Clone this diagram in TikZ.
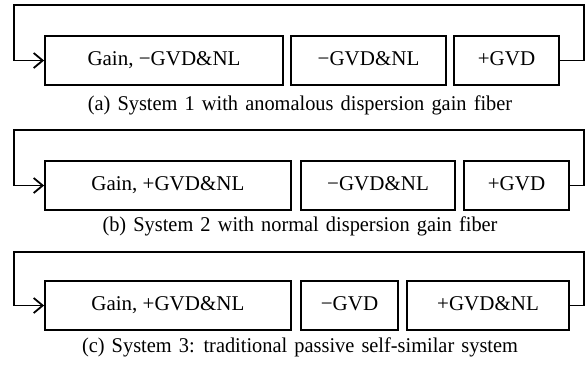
\documentclass[tikz,border=0pt]{standalone}
\usepackage{fontspec}
\setmainfont{Liberation Serif}
\newfontfamily\capfamily[FakeStretch=0.97, WordSpace=1.4]{Liberation Serif}
\usetikzlibrary{arrows.meta}
\tikzset{
  blk/.style={draw, line width=1.8pt, rectangle, inner sep=0pt,
    minimum height=49pt, font=\fontsize{21}{24}\selectfont,
    text height=0.662em+3pt, text depth=0pt},
  loopline/.style={line width=1.8pt,
    -{Straight Barb[length=9pt,width=15pt,line width=1.8pt]}},
  subcap/.style={anchor=base, inner sep=0pt,
    font=\capfamily\fontsize{21}{24}\selectfont}
}
\begin{document}
\begin{tikzpicture}[x=1pt, y=-1pt]
\useasboundingbox (0,0) rectangle (585,365);

% (a) System 1
\node[blk, minimum width=238pt] (a1) at (164,60.5) {Gain, −GVD\&NL};
\node[blk, minimum width=155pt] (a2) at (368.5,60.5) {−GVD\&NL};
\node[blk, minimum width=105pt] (a3) at (506.5,60.5) {+GVD};
\coordinate (ar) at (584,5);
\coordinate (al) at (14,5);
\draw[loopline] (a3.east) -| (ar) -- (al) |- (a1.west);
\node[subcap] (ca) at (300,110) {(a) System 1 with anomalous dispersion gain fiber};

% (b) System 2
\node[blk, minimum width=245.7pt] (b1) at (167.85,185.5) {Gain, +GVD\&NL};
\node[blk, minimum width=154pt] (b2) at (378,185.5) {−GVD\&NL};
\node[blk, minimum width=105pt] (b3) at (516.5,185.5) {+GVD};
\coordinate (br) at (584,130);
\coordinate (bl) at (14,130);
\draw[loopline] (b3.east) -| (br) -- (bl) |- (b1.west);
\node[subcap] (cb) at (300,231) {(b) System 2 with normal dispersion gain fiber};

% (c) System 3
\node[blk, minimum width=245.7pt] (c1) at (167.85,305.5) {Gain, +GVD\&NL};
\node[blk, minimum width=97pt] (c2) at (349.5,305.5) {−GVD};
\node[blk, minimum width=162pt] (c3) at (488,305.5) {+GVD\&NL};
\coordinate (cr) at (584,252);
\coordinate (cl) at (14,252);
\draw[loopline] (c3.east) -| (cr) -- (cl) |- (c1.west);
\node[subcap] (cc) at (300,352) {(c) System 3: traditional passive self-similar system};
\end{tikzpicture}
\end{document}
